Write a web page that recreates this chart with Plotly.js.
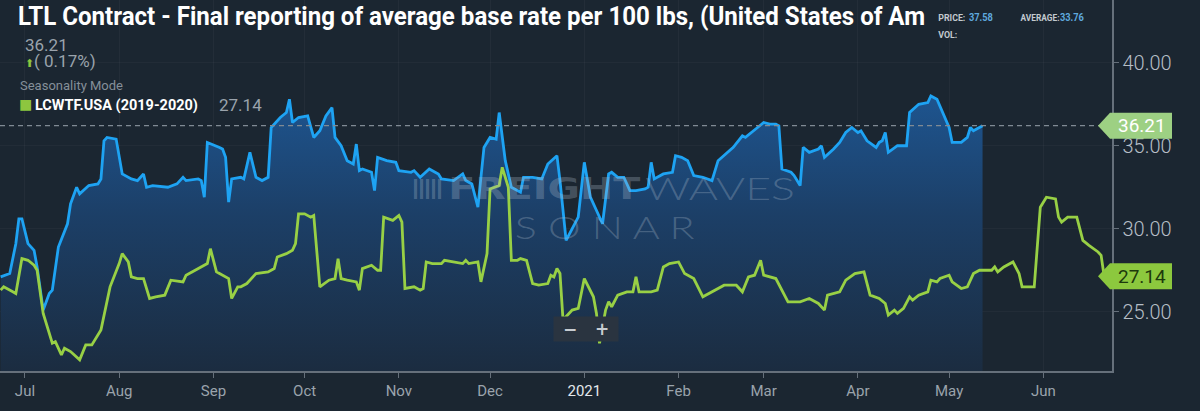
<!DOCTYPE html>
<html>
<head>
<meta charset="utf-8">
<script src="https://cdn.plot.ly/plotly-3.0.1.min.js"></script>
<style>
  html, body { margin: 0; padding: 0; background: #1b2631; }
  #chart { width: 1200px; height: 411px; }
</style>
</head>
<body>
<div id="chart"></div>
<script>
// ---- Data ----
const blueName = "LCWTF.USA (2020-2021)";
const blueDates = [
  "2020-06-23","2020-06-26","2020-06-28","2020-06-29","2020-06-30","2020-07-02","2020-07-04","2020-07-05",
  "2020-07-07","2020-07-09","2020-07-10","2020-07-12","2020-07-15","2020-07-16","2020-07-18","2020-07-19",
  "2020-07-22","2020-07-25","2020-07-26","2020-07-27","2020-07-28","2020-07-31","2020-08-02","2020-08-05",
  "2020-08-07","2020-08-09","2020-08-10","2020-08-12","2020-08-17","2020-08-20","2020-08-22","2020-08-23",
  "2020-08-27","2020-08-28","2020-08-29","2020-08-30","2020-09-03","2020-09-04","2020-09-05","2020-09-06",
  "2020-09-07","2020-09-10","2020-09-11","2020-09-13","2020-09-15","2020-09-17","2020-09-19","2020-09-20",
  "2020-09-23","2020-09-25","2020-09-26","2020-09-27","2020-09-29","2020-10-02","2020-10-04","2020-10-06",
  "2020-10-08","2020-10-10","2020-10-11","2020-10-13","2020-10-15","2020-10-17","2020-10-18","2020-10-19",
  "2020-10-20","2020-10-23","2020-10-24","2020-10-25","2020-10-28","2020-10-31","2020-11-01","2020-11-05",
  "2020-11-06","2020-11-08","2020-11-11","2020-11-14","2020-11-15","2020-11-19","2020-11-22","2020-11-23",
  "2020-11-25","2020-11-27","2020-11-29","2020-12-01","2020-12-03","2020-12-04","2020-12-06","2020-12-08",
  "2020-12-11","2020-12-12","2020-12-15","2020-12-18","2020-12-20","2020-12-23","2020-12-24","2020-12-26",
  "2020-12-30","2021-01-01","2021-01-03","2021-01-07","2021-01-09","2021-01-10","2021-01-12","2021-01-14",
  "2021-01-16","2021-01-18","2021-01-21","2021-01-22","2021-01-23","2021-01-24","2021-01-27","2021-01-30",
  "2021-01-31","2021-02-02","2021-02-04","2021-02-06","2021-02-09","2021-02-12","2021-02-14","2021-02-17",
  "2021-02-19","2021-02-22","2021-02-23","2021-02-27","2021-03-01","2021-03-03","2021-03-05","2021-03-06",
  "2021-03-07","2021-03-10","2021-03-11","2021-03-13","2021-03-14","2021-03-16","2021-03-19","2021-03-20",
  "2021-03-21","2021-03-24","2021-03-26","2021-03-28","2021-03-30","2021-04-01","2021-04-02","2021-04-04",
  "2021-04-07","2021-04-08","2021-04-09","2021-04-10","2021-04-11","2021-04-14","2021-04-17","2021-04-18",
  "2021-04-21","2021-04-24","2021-04-25","2021-04-27","2021-04-29","2021-05-01","2021-05-02","2021-05-05",
  "2021-05-07","2021-05-08","2021-05-09","2021-05-12"
];
const blueValues = [
  27.1,27.3,29.1,30.6,30.6,29.1,28.7,27.7,
  25.1,26.1,26.3,28.9,30.3,31.5,32.5,32.1,
  32.6,32.7,33.0,35.3,35.5,35.4,33.3,33.0,
  32.9,33.3,32.5,32.6,32.5,32.7,33.1,32.9,
  33.0,32.9,31.9,35.2,34.9,34.8,34.3,31.6,
  33.0,33.1,33.0,34.6,33.1,32.9,33.1,36.1,
  36.7,37.0,37.8,36.4,36.7,36.8,35.5,35.9,
  36.8,37.3,35.5,35.0,34.1,33.9,35.1,33.5,
  33.6,33.4,32.3,34.3,34.1,34.0,33.5,33.4,
  33.5,33.1,33.6,33.3,33.0,32.9,33.3,32.9,
  32.7,31.3,34.9,35.5,35.4,37.0,34.1,32.5,
  32.2,33.1,33.1,33.0,33.9,34.4,32.9,29.3,
  30.7,34.0,31.9,30.3,33.3,33.4,33.1,33.1,
  32.3,32.3,32.4,32.5,34.0,33.0,33.3,33.4,
  34.4,34.3,34.1,33.2,33.1,32.9,34.1,34.6,
  34.9,35.6,35.5,36.1,36.4,36.3,36.3,36.2,
  33.6,33.4,33.2,32.6,34.9,34.6,34.8,35.0,
  34.3,34.8,35.2,35.8,36.1,35.8,35.9,35.3,
  34.9,35.2,35.3,35.8,34.6,35.0,35.0,37.0,
  37.5,37.6,38.0,37.8,37.0,36.1,35.2,35.2,
  35.5,36.1,35.9,36.21
];

const greenName = "LCWTF.USA (2019-2020)";
const greenDates = [
  "2020-06-23","2020-06-24","2020-06-27","2020-06-28","2020-06-30","2020-07-02","2020-07-04","2020-07-05",
  "2020-07-07","2020-07-09","2020-07-10","2020-07-11","2020-07-13","2020-07-14","2020-07-16","2020-07-19",
  "2020-07-21","2020-07-23","2020-07-26","2020-07-29","2020-08-01","2020-08-02","2020-08-04","2020-08-05",
  "2020-08-07","2020-08-09","2020-08-11","2020-08-13","2020-08-16","2020-08-18","2020-08-22","2020-08-23",
  "2020-08-25","2020-08-28","2020-08-30","2020-08-31","2020-09-02","2020-09-03","2020-09-06","2020-09-07",
  "2020-09-09","2020-09-10","2020-09-12","2020-09-15","2020-09-19","2020-09-21","2020-09-22","2020-09-25",
  "2020-09-27","2020-09-28","2020-09-29","2020-10-01","2020-10-03","2020-10-04","2020-10-06","2020-10-09",
  "2020-10-11","2020-10-12","2020-10-13","2020-10-15","2020-10-18","2020-10-19","2020-10-20","2020-10-23",
  "2020-10-25","2020-10-26","2020-10-27","2020-10-30","2020-11-01","2020-11-02","2020-11-03","2020-11-06",
  "2020-11-08","2020-11-09","2020-11-10","2020-11-12","2020-11-15","2020-11-16","2020-11-19","2020-11-22",
  "2020-11-23","2020-11-24","2020-11-27","2020-11-28","2020-11-30","2020-12-01","2020-12-04","2020-12-05",
  "2020-12-07","2020-12-08","2020-12-10","2020-12-11","2020-12-13","2020-12-15","2020-12-17","2020-12-20",
  "2020-12-21","2020-12-22","2020-12-23","2020-12-24","2020-12-25","2020-12-28","2020-12-30","2021-01-01",
  "2021-01-04","2021-01-05","2021-01-06","2021-01-08","2021-01-09","2021-01-10","2021-01-12","2021-01-15",
  "2021-01-17","2021-01-18","2021-01-19","2021-01-22","2021-01-23","2021-01-25","2021-01-27","2021-01-29",
  "2021-02-01","2021-02-03","2021-02-06","2021-02-09","2021-02-12","2021-02-16","2021-02-20","2021-02-22",
  "2021-02-24","2021-02-26","2021-02-28","2021-03-01","2021-03-05","2021-03-09","2021-03-11","2021-03-13",
  "2021-03-16","2021-03-19","2021-03-21","2021-03-22","2021-03-26","2021-03-28","2021-03-31","2021-04-03",
  "2021-04-05","2021-04-08","2021-04-10","2021-04-11","2021-04-13","2021-04-14","2021-04-16","2021-04-18",
  "2021-04-19","2021-04-21","2021-04-24","2021-04-25","2021-04-27","2021-04-28","2021-05-01","2021-05-02",
  "2021-05-05","2021-05-07","2021-05-09","2021-05-11","2021-05-15","2021-05-16","2021-05-17","2021-05-19",
  "2021-05-22","2021-05-24","2021-05-25","2021-05-29","2021-05-31","2021-06-02","2021-06-05","2021-06-06",
  "2021-06-07","2021-06-09","2021-06-12","2021-06-14","2021-06-16","2021-06-19","2021-06-20","2021-06-21"
];
const greenValues = [
  26.3,26.5,26.2,26.1,28.2,28.1,27.8,27.5,
  24.9,23.7,23.1,23.2,22.4,22.8,22.6,22.1,
  23.0,23.0,23.9,26.5,27.9,28.5,28.0,27.1,
  27.0,27.0,25.8,25.9,26.0,26.9,26.8,27.2,
  27.4,27.7,27.9,28.8,27.4,27.3,27.0,25.8,
  26.5,26.5,26.7,27.3,27.4,27.6,28.3,28.5,
  28.7,29.1,30.9,30.9,30.7,30.8,26.5,26.9,
  27.0,28.2,27.0,26.9,26.8,26.3,27.6,27.8,
  27.5,27.5,30.7,30.5,30.8,30.4,26.4,26.5,
  26.3,26.4,28.0,27.9,27.9,28.1,28.0,27.9,
  28.1,27.9,28.0,26.8,28.5,32.4,32.6,33.7,
  32.5,28.1,28.1,28.2,28.1,26.7,26.6,26.7,
  27.2,27.1,27.6,27.3,24.5,25.1,25.2,27.0,
  25.9,24.9,23.1,25.1,25.6,25.3,26.0,26.2,
  26.2,27.1,26.2,26.2,26.2,26.3,27.7,27.9,
  28.0,27.3,27.0,25.9,26.2,26.6,26.6,26.2,
  27.1,27.2,28.1,27.2,27.0,25.6,25.6,25.6,
  25.8,25.5,25.1,26.0,26.2,26.9,27.3,27.4,
  26.0,25.8,25.5,24.8,25.1,24.9,25.2,25.9,
  25.7,26.0,26.2,26.9,26.8,27.0,27.2,26.8,
  26.4,26.5,27.3,27.5,27.5,27.7,27.4,27.7,
  28.0,27.3,26.5,26.5,31.3,31.9,31.8,30.7,
  30.4,30.7,30.7,29.3,29.0,28.6,28.4,27.14
];

const yTickVals = [25, 30, 35, 40];
const xTickVals = ["2020-07-01","2020-08-01","2020-09-01","2020-10-01","2020-11-01","2020-12-01",
                   "2021-01-01","2021-02-01","2021-03-01","2021-04-01","2021-05-01","2021-06-01"];
const xTickText = ["Jul","Aug","Sep","Oct","Nov","Dec",
                   "<span style='color:#e4e8ec'>2021</span>","Feb","Mar","Apr","May","Jun"];

const titleText = "LTL Contract - Final reporting of average base rate per 100 lbs, (United States of Am";
const changeText = "( 0.17%)";
const priceText = "37.58";
const averageText = "33.76";

// ---- Derived ----
const blueLast = blueValues[blueValues.length - 1];
const greenLast = greenValues[greenValues.length - 1];

const BG = "#1b2631";
const BLUE = "#1ea3f3";
const GREEN = "#98d045";
const WM = "rgba(175,190,205,0.30)";

const traces = [
  {
    x: blueDates, y: blueValues, type: "scatter", mode: "lines", name: blueName,
    line: { color: BLUE, width: 2.8, shape: "linear" },
    fill: "tozeroy",
    fillgradient: {
      type: "vertical",
      start: 21.4, stop: 38.5,
      colorscale: [[0, "#1b2c40"], [0.55, "#1c3f67"], [1, "#1e5692"]]
    },
    hoverinfo: "skip"
  },
  {
    x: greenDates, y: greenValues, type: "scatter", mode: "lines", name: greenName,
    line: { color: GREEN, width: 2.8 },
    hoverinfo: "skip"
  }
];

const W = 1112, H = 371;
const px = v => v / W;
const py = v => 1 - v / H;

// _fit: target rendered width (px) for the text, applied after drawing
const annDefs = [
  // top-left info
  { xref: "paper", yref: "paper", x: px(23), y: py(45), xanchor: "left", yanchor: "middle",
    text: String(blueLast), showarrow: false, font: { family: "Roboto", size: 17, color: "#9aa3ac" } },
  { xref: "paper", yref: "paper", x: px(23), y: py(61), xanchor: "left", yanchor: "middle",
    text: "<span style='color:#8dc63f;font-size:11px'>⬆</span>" + changeText, showarrow: false,
    font: { family: "Roboto", size: 17, color: "#9aa3ac" } },
  { xref: "paper", yref: "paper", x: px(18), y: py(85), xanchor: "left", yanchor: "middle",
    text: "Seasonality Mode", showarrow: false, font: { family: "Roboto", size: 13, color: "#858f99" } },
  { xref: "paper", yref: "paper", x: px(25), y: py(104), xanchor: "center", yanchor: "middle",
    text: "■", showarrow: false, font: { family: "DejaVu Sans", size: 14, color: "#8dc63f" } },
  { xref: "paper", yref: "paper", x: px(116.5), y: py(105), xanchor: "center", yanchor: "middle",
    text: greenName, showarrow: false, _fit: 163,
    font: { family: "Roboto", size: 15, weight: 700, color: "#ffffff" } },
  { xref: "paper", yref: "paper", x: px(217), y: py(105), xanchor: "left", yanchor: "middle",
    text: String(greenLast), showarrow: false, font: { family: "Roboto", size: 17, color: "#9aa3ac" } },
  // top-right info
  { xref: "paper", yref: "paper", x: px(952), y: py(18), xanchor: "center", yanchor: "middle",
    text: "PRICE:", showarrow: false, _fit: 27,
    font: { family: "Roboto", size: 9, weight: 700, color: "#c3c9cf" } },
  { xref: "paper", yref: "paper", x: px(981), y: py(18), xanchor: "center", yanchor: "middle",
    text: priceText, showarrow: false, _fit: 24,
    font: { family: "Roboto", size: 10, weight: 700, color: "#5fa9de" } },
  { xref: "paper", yref: "paper", x: px(1040), y: py(18), xanchor: "center", yanchor: "middle",
    text: "AVERAGE:", showarrow: false, _fit: 39,
    font: { family: "Roboto", size: 9, weight: 700, color: "#c3c9cf" } },
  { xref: "paper", yref: "paper", x: px(1072), y: py(18), xanchor: "center", yanchor: "middle",
    text: averageText, showarrow: false, _fit: 24,
    font: { family: "Roboto", size: 10, weight: 700, color: "#5fa9de" } },
  { xref: "paper", yref: "paper", x: px(947.5), y: py(35), xanchor: "center", yanchor: "middle",
    text: "VOL:", showarrow: false, _fit: 19,
    font: { family: "Roboto", size: 9, weight: 700, color: "#c3c9cf" } },
  // watermark
  { xref: "paper", yref: "paper", x: px(427), y: py(188), xanchor: "center", yanchor: "middle",
    text: "ǀǀǀǀǀ", showarrow: false, _fit: 30,
    font: { family: "DejaVu Sans", size: 22, weight: 700, color: WM } },
  { xref: "paper", yref: "paper", x: px(544), y: py(188), xanchor: "center", yanchor: "middle",
    text: "FREIGHT", showarrow: false, _fit: 192,
    font: { family: "DejaVu Sans", size: 31, weight: 700, color: WM } },
  { xref: "paper", yref: "paper", x: px(720), y: py(188), xanchor: "center", yanchor: "middle",
    text: "WAVES", showarrow: false, _fit: 150,
    font: { family: "Lato", size: 31, weight: 300, color: WM } },
  { xref: "paper", yref: "paper", x: px(605), y: py(227), xanchor: "center", yanchor: "middle",
    text: "S O N A R", showarrow: false, _fit: 180,
    font: { family: "Lato", size: 31, weight: 300, color: WM } },
  // zoom buttons
  { xref: "paper", yref: "paper", x: px(570), y: py(329), xanchor: "center", yanchor: "middle",
    text: "<b>−</b>", showarrow: false, width: 30, height: 22, bgcolor: "#2a3440",
    font: { family: "DejaVu Sans", size: 17, color: "#c7ccd1" } },
  { xref: "paper", yref: "paper", x: px(602), y: py(329), xanchor: "center", yanchor: "middle",
    text: "<b>+</b>", showarrow: false, width: 30, height: 22, bgcolor: "#2a3440",
    font: { family: "DejaVu Sans", size: 17, color: "#c7ccd1" } },
  // right value labels
  { xref: "paper", yref: "y", x: 1, y: blueLast, xanchor: "center", yanchor: "middle", xshift: 30,
    text: blueLast.toFixed(2), showarrow: false, font: { family: "Roboto", size: 19, color: "#ffffff" } },
  { xref: "paper", yref: "y", x: 1, y: greenLast, xanchor: "center", yanchor: "middle", xshift: 30,
    text: greenLast.toFixed(2), showarrow: false, font: { family: "Roboto", size: 19, color: "#1d3a0c" } }
];
const fitLengths = annDefs.map(a => a._fit);
const annotations = annDefs.map(({ _fit, ...rest }) => rest);

const tagPath = "M-14,0 L-2,13 L60,13 L60,-13 L-2,-13 Z";
const shapes = [
  { type: "line", xref: "paper", yref: "y", x0: 0, x1: 1, y0: blueLast, y1: blueLast,
    line: { color: "#808a94", width: 1.2, dash: "5px,4px" }, layer: "above" },
  { type: "path", xref: "paper", yref: "y", xsizemode: "pixel", ysizemode: "pixel",
    xanchor: 1, yanchor: blueLast, path: tagPath, fillcolor: "#9dd083",
    line: { width: 0 }, layer: "above" },
  { type: "path", xref: "paper", yref: "y", xsizemode: "pixel", ysizemode: "pixel",
    xanchor: 1, yanchor: greenLast, path: tagPath, fillcolor: "#8cc83e",
    line: { width: 0 }, layer: "above" }
];

const layout = {
  width: 1200, height: 411,
  paper_bgcolor: BG, plot_bgcolor: BG,
  margin: { l: 0, r: 88, t: 0, b: 40 },
  showlegend: false,
  title: {
    text: titleText,
    x: 18 / 1200, xanchor: "left", xref: "container",
    y: 1 - 7 / 411, yanchor: "top", yref: "container",
    font: { family: "Roboto", size: 25, weight: 700, color: "#ffffff" }
  },
  xaxis: {
    type: "date",
    range: ["2020-06-22 19:00", "2021-06-23 14:00"],
    tickvals: xTickVals, ticktext: xTickText,
    showgrid: true, gridcolor: "rgba(255,255,255,0.035)", gridwidth: 1,
    showline: true, linecolor: "#66707b", linewidth: 1.5,
    ticks: "outside", ticklen: 5, tickcolor: "#66707b",
    tickfont: { family: "Roboto", size: 15, color: "#9aa3ac" },
    zeroline: false, fixedrange: true
  },
  yaxis: {
    side: "right",
    range: [21.43, 43.78],
    tickvals: yTickVals, tickformat: ".2f",
    showgrid: true, gridcolor: "rgba(255,255,255,0.03)",
    showline: true, linecolor: "#66707b", linewidth: 1.5,
    ticks: "outside", ticklen: 5, tickcolor: "#66707b",
    tickfont: { family: "Roboto", size: 20, weight: 300, color: "#b6bec6" },
    zeroline: false, fixedrange: true
  },
  annotations: annotations,
  shapes: shapes
};

function fitText(el, len) {
  if (!el || !len) return;
  el.setAttribute("textLength", len);
  el.setAttribute("lengthAdjust", "spacingAndGlyphs");
}

Plotly.newPlot("chart", traces, layout, { displayModeBar: false, staticPlot: true }).then(gd => {
  fitText(gd.querySelector(".gtitle"), 907);
  gd.querySelectorAll("g.annotation").forEach(g => {
    const i = +g.getAttribute("data-index");
    fitText(g.querySelector("text.annotation-text"), fitLengths[i]);
  });
});
</script>
</body>
</html>
